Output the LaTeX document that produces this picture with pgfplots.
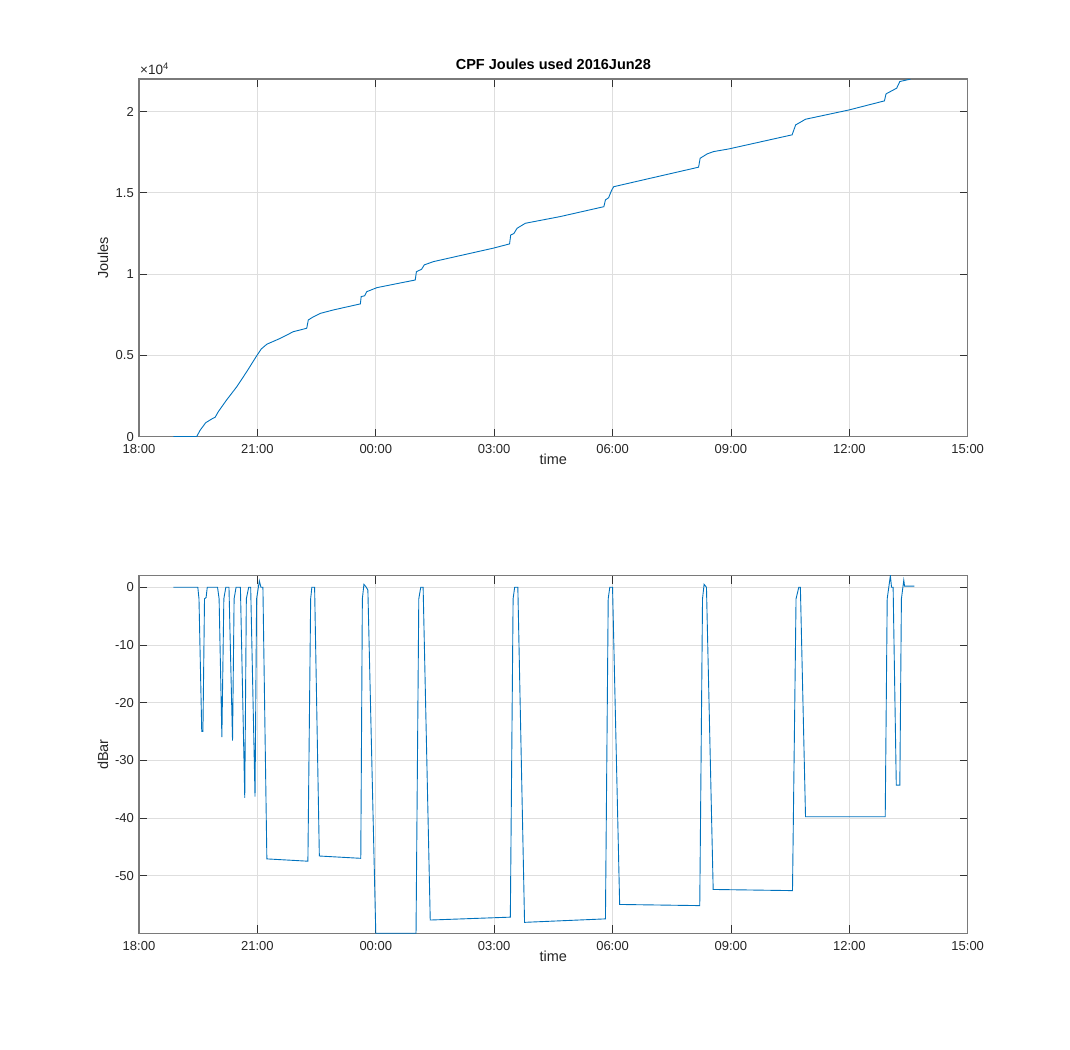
\documentclass[border=0pt]{standalone}
\usepackage{pgfplots}
\pgfplotsset{compat=1.18}
\usepackage{fontspec}
\setmainfont{Liberation Sans}
\definecolor{mblue}{rgb}{0,0.447,0.741}
\definecolor{mtext}{rgb}{0.15,0.15,0.15}

\pgfplotsset{matlab/.style={
  scale only axis, width=828.7pt, height=357.6pt,
  xmin=0, xmax=21,
  xtick={0,3,6,9,12,15,18,21},
  xticklabels={18:00,21:00,00:00,03:00,06:00,09:00,12:00,15:00},
  scaled ticks=false,
  grid=major, major grid style={draw=black!13, line width=0.8pt},
  axis line style={draw=black!52, line width=1.2pt},
  tick align=inside, major tick length=8pt,
  tick style={draw=black!80, line width=0.8pt},
  ticklabel style={font=\fontsize{13}{15}\selectfont, text=mtext},
  xticklabel style={inner sep=0pt, yshift=-8pt},
  yticklabel style={inner sep=0pt, xshift=-5pt},
  xlabel style={font=\fontsize{14.5}{17}\selectfont, text=mtext, at={(axis description cs:0.5,-0.0645)}, anchor=center},
  ylabel style={font=\fontsize{14.5}{17}\selectfont, text=mtext, at={(axis description cs:-0.0434,0.5)}, anchor=center},
}}

\begin{document}
\begin{tikzpicture}
\path[use as bounding box] (0,0) rectangle (1070pt,1049pt);

\begin{axis}[matlab, at={(139pt,612.3pt)}, anchor=south west,
  ymin=0, ymax=2.2, ytick={0,0.5,1,1.5,2}, yticklabels={0,0.5,1,1.5,2},
  xlabel={time}, ylabel={Joules},
  title={CPF Joules used 2016Jun28},
  title style={font=\bfseries\fontsize{14.5}{17}\selectfont, text=black, at={(axis description cs:0.5,1)}, anchor=center, yshift=9pt}]
\addplot[draw=mblue, line width=0.9pt, no marks] coordinates {
(0.87,0) (1.46,0) (1.55,0.04) (1.69,0.086) (1.85,0.11) (1.93,0.12) (2.01,0.154)
(2.22,0.226) (2.48,0.308) (2.73,0.40) (2.98,0.497) (3.10,0.54) (3.24,0.569)
(3.58,0.605) (3.91,0.646) (4.25,0.667) (4.29,0.718) (4.40,0.735) (4.60,0.759)
(4.93,0.78) (5.61,0.817) (5.63,0.862) (5.72,0.867) (5.77,0.892) (6.03,0.917)
(7.00,0.964) (7.03,1.015) (7.16,1.03) (7.23,1.057) (7.46,1.077) (8.98,1.16)
(9.39,1.186) (9.42,1.241) (9.50,1.25) (9.58,1.282) (9.79,1.313) (10.67,1.354)
(11.78,1.415) (11.82,1.457) (11.90,1.47) (11.98,1.518) (12.03,1.538) (12.96,1.59)
(14.18,1.658) (14.22,1.713) (14.40,1.74) (14.56,1.754) (14.94,1.770) (16.55,1.857)
(16.64,1.918) (16.89,1.953) (17.99,2.01) (18.89,2.066) (18.93,2.109) (19.20,2.144)
(19.28,2.185) (19.55,2.20)
};
\end{axis}

\node[anchor=base west, font=\fontsize{13.5}{15}\selectfont, text=mtext, inner sep=0pt] at (140pt,974pt) {×10\textsuperscript{4}};

\begin{axis}[matlab, at={(139pt,115.7pt)}, anchor=south west,
  ymin=-60, ymax=2, ytick={-50,-40,-30,-20,-10,0}, yticklabels={-50,-40,-30,-20,-10,0},
  xlabel={time}, ylabel={dBar}]
\addplot[draw=mblue, line width=0.9pt, no marks] coordinates {
(0.87,0) (1.49,0) (1.52,-2) (1.59,-25.0) (1.62,-25) (1.66,-2) (1.70,-1.8) (1.73,0)
(1.99,0) (2.03,-2) (2.10,-26.0) (2.15,-2) (2.20,0) (2.28,0) (2.37,-26.6) (2.41,-2)
(2.46,0) (2.57,0) (2.68,-36.5) (2.72,-2) (2.78,0) (2.83,0) (2.94,-36.3) (2.98,-2)
(3.05,1.1) (3.09,0) (3.14,0) (3.24,-47.1) (4.28,-47.5) (4.35,-2) (4.38,0) (4.45,0)
(4.57,-46.6) (5.62,-47.0) (5.66,-2) (5.70,0.5) (5.76,0) (5.80,-0.5) (6.00,-60)
(7.02,-60) (7.09,-2) (7.14,0) (7.20,0) (7.38,-57.7) (9.41,-57.2) (9.48,-2) (9.52,0)
(9.60,0) (9.77,-58.1) (11.82,-57.5) (11.89,-2) (11.93,0) (12.00,0) (12.18,-55.0)
(14.21,-55.2) (14.28,-2) (14.32,0.5) (14.38,0) (14.55,-52.4) (16.56,-52.6)
(16.65,-2) (16.72,0) (16.76,0) (16.89,-39.8) (18.91,-39.8) (18.96,-2) (19.04,2)
(19.07,0) (19.11,0) (19.19,-34.3) (19.28,-34.3) (19.32,-2) (19.38,1.2) (19.40,0.2)
(19.65,0.2)
};
\end{axis}
\end{tikzpicture}
\end{document}
